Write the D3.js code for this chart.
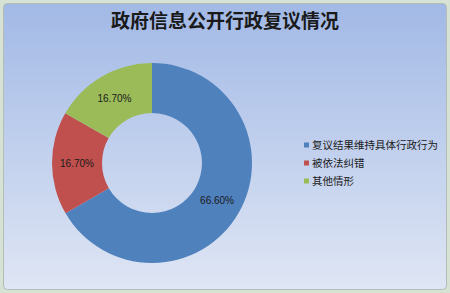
<!DOCTYPE html>
<html>
<head>
<meta charset="utf-8">
<script src="https://cdn.jsdelivr.net/npm/d3@7"></script>
<style>
  body { margin: 0; background: #d6e2d3; }
  svg { display: block; }
</style>
</head>
<body>
<div id="chart"></div>
<script>
// chart data
const categories = ["复议结果维持具体行政行为", "被依法纠错", "其他情形"];
const shares = [66.6, 16.7, 16.7];
const colors = ["#4f81bd", "#c0504d", "#9bbb59"];
const title = "政府信息公开行政复议情况";

const width = 450, height = 293;

const svg = d3.select("#chart").append("svg")
    .attr("width", width)
    .attr("height", height);

// background gradient
const defs = svg.append("defs");
const grad = defs.append("linearGradient")
    .attr("id", "bg")
    .attr("x1", 0).attr("y1", 0).attr("x2", 0).attr("y2", 1);
grad.append("stop").attr("offset", "0%").attr("stop-color", "#a2b9e6");
grad.append("stop").attr("offset", "100%").attr("stop-color", "#dfe6f4");

svg.append("rect")
    .attr("x", 3.5).attr("y", 3.5)
    .attr("width", 443).attr("height", 286)
    .attr("rx", 4)
    .attr("fill", "url(#bg)")
    .attr("stroke", "#b4bcb8");

// title
svg.append("text")
    .attr("x", 225)
    .attr("y", 28)
    .attr("text-anchor", "middle")
    .attr("font-family", "'Noto Sans CJK SC', sans-serif")
    .attr("font-weight", 600)
    .attr("font-size", 19)
    .attr("fill", "#1a1a1a")
    .text(title);

// donut
const cx = 152, cy = 163;
const pie = d3.pie().sort(null).value(d => d);
const arc = d3.arc().innerRadius(50).outerRadius(100);

const g = svg.append("g").attr("transform", `translate(${cx},${cy})`);
const arcs = pie(shares);

g.selectAll("path")
  .data(arcs)
  .join("path")
    .attr("d", arc)
    .attr("fill", (d, i) => colors[i]);

g.selectAll("text")
  .data(arcs)
  .join("text")
    .attr("transform", d => `translate(${arc.centroid(d)})`)
    .attr("text-anchor", "middle")
    .attr("dy", "0.35em")
    .attr("font-family", "'Liberation Sans', sans-serif")
    .attr("font-size", 10)
    .attr("fill", "#1a1a1a")
    .text(d => d.data.toFixed(2) + "%");

// legend
const legend = svg.append("g").attr("transform", "translate(304,145)");
const item = legend.selectAll("g")
  .data(categories)
  .join("g")
    .attr("transform", (d, i) => `translate(0,${i * 18})`);

item.append("rect")
    .attr("x", 0).attr("y", -2.5)
    .attr("width", 5).attr("height", 5)
    .attr("fill", (d, i) => colors[i]);

item.append("text")
    .attr("x", 8)
    .attr("dy", "0.35em")
    .attr("font-family", "'Noto Sans CJK SC', sans-serif")
    .attr("font-size", 10.5)
    .attr("fill", "#1a1a1a")
    .text(d => d);
</script>
</body>
</html>
